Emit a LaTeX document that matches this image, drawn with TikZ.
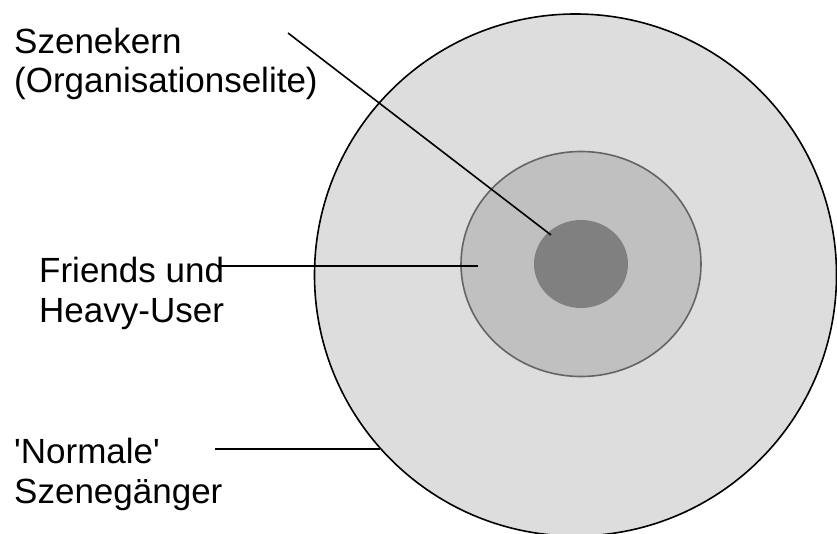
\documentclass[tikz,border=0pt]{standalone}
\usepackage{fontspec}
\setmainfont{Liberation Sans}
\definecolor{outerfill}{RGB}{221,221,221}
\definecolor{midfill}{RGB}{192,192,192}
\definecolor{midline}{RGB}{100,100,100}
\definecolor{corefill}{RGB}{128,128,128}
\begin{document}
\begin{tikzpicture}[x=1pt,y=-1pt,
  lbl/.style={anchor=north west,inner sep=0pt,align=left,
    font=\fontsize{35}{39.5}\selectfont},
  leader/.style={draw=black,line width=1.6pt}]
\useasboundingbox (0,0) rectangle (837,534);
\begin{scope}
\clip (0,0) rectangle (837,534);
\draw[fill=outerfill,draw=black,line width=1.6pt] (575.5,275) circle [radius=261];
\end{scope}
\draw[fill=midfill,draw=midline,line width=1.6pt] (581,264) ellipse [x radius=120,y radius=112.5];
\fill[corefill] (581,264) ellipse [x radius=47,y radius=44];
\node[lbl] (kern) at (14,23) {\rule{0pt}{30pt}Szenekern\\(Organisationselite)};
\node[lbl] (friends) at (39,252.5) {\rule{0pt}{30pt}Friends und\\Heavy-User};
\node[lbl] (normal) at (14,433.5) {\rule{0pt}{30pt}\textquotesingle Normale\textquotesingle\\Szenegänger};
\coordinate (k1) at (288,33);
\coordinate (k2) at (551,235);
\coordinate (f1) at (218,266);
\coordinate (f2) at (478,266);
\coordinate (n1) at (215,449);
\coordinate (n2) at (380,449);
\draw[leader] (k1) -- (k2);
\draw[leader] (f1) -- (f2);
\draw[leader] (n1) -- (n2);
\end{tikzpicture}
\end{document}
